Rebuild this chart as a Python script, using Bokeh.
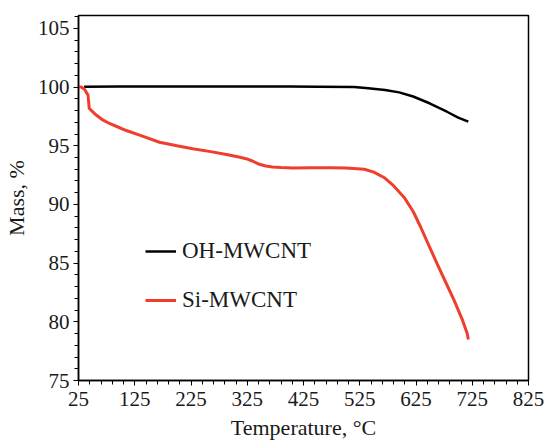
from bokeh.plotting import figure
from bokeh.models import Range1d, FixedTicker, Legend, LegendItem
from bokeh.embed import file_html
from bokeh.resources import INLINE

# OH-MWCNT
oh_temp = [35, 100, 200, 300, 400, 450, 515, 540, 570, 595, 620, 650, 680, 700, 718]
oh_mass = [100.02, 100.05, 100.05, 100.05, 100.04, 100.02, 100.0, 99.9, 99.75, 99.55, 99.2, 98.6, 97.9, 97.4, 97.05]

# Si-MWCNT
si_temp = [25, 30, 36, 42, 44, 50, 57, 68, 80, 95, 110, 140, 169, 200, 228, 260, 288, 310, 323, 335, 345, 358, 370,
           385, 406, 440, 474, 500, 520, 533, 550, 568, 585, 604, 620, 633, 648, 663, 678, 693, 708, 716, 718]
si_mass = [100.0, 100.0, 99.8, 99.3, 98.2, 97.9, 97.6, 97.2, 96.9, 96.6, 96.3, 95.8, 95.3, 95.0, 94.75, 94.5,
           94.26, 94.05, 93.9, 93.68, 93.45, 93.28, 93.2, 93.15, 93.1, 93.12, 93.13, 93.1, 93.05, 93.0, 92.75,
           92.3, 91.6, 90.6, 89.4, 88.1, 86.5, 84.9, 83.35, 81.8, 80.1, 79.0, 78.5]

x_ticks = [25, 125, 225, 325, 425, 525, 625, 725, 825]
y_ticks = [75, 80, 85, 90, 95, 100, 105]

FONT = "Liberation Serif"

p = figure(width=546, height=443, output_backend="svg", toolbar_location=None,
           x_range=Range1d(25, 825), y_range=Range1d(75, 106.1),
           min_border_left=77, min_border_right=18, min_border_top=15, min_border_bottom=63)

p.xgrid.visible = False
p.ygrid.visible = False
p.outline_line_color = "black"
p.outline_line_width = 1.5
p.background_fill_color = "white"
p.border_fill_color = "white"

p.xaxis.ticker = FixedTicker(ticks=x_ticks, minor_ticks=list(range(25, 826, 20)))
p.yaxis.ticker = FixedTicker(ticks=y_ticks, minor_ticks=list(range(75, 107, 1)))

for ax in (p.xaxis[0], p.yaxis[0]):
    ax.axis_line_color = "black"
    ax.axis_line_width = 1.5
    ax.major_tick_line_color = "black"
    ax.minor_tick_line_color = "black"
    ax.major_tick_out = 5
    ax.major_tick_in = 0
    ax.minor_tick_out = 4
    ax.minor_tick_in = 0
    ax.major_label_text_font = FONT
    ax.major_label_text_font_size = "21px"
    ax.major_label_text_color = "#1a1a1a"
    ax.axis_label_text_font = FONT
    ax.axis_label_text_font_size = "22px"
    ax.axis_label_text_font_style = "normal"
    ax.axis_label_text_color = "#1a1a1a"

p.xaxis.axis_label = "Temperature, °C"
p.yaxis.axis_label = "Mass, %"
p.xaxis.major_label_standoff = 6
p.yaxis.major_label_standoff = 4
p.xaxis.axis_label_standoff = 6
p.yaxis.axis_label_standoff = 6

r1 = p.line(oh_temp, oh_mass, line_color="black", line_width=2.5)
r2 = p.line(si_temp, si_mass, line_color="#EF3E2E", line_width=3)

legend = Legend(items=[LegendItem(label="OH-MWCNT", renderers=[r1]),
                       LegendItem(label="Si-MWCNT", renderers=[r2])],
                location=(67, 67))
legend.label_text_font = FONT
legend.label_text_font_size = "23px"
legend.label_text_color = "#1a1a1a"
legend.glyph_width = 31
legend.glyph_height = 24
legend.label_height = 24
legend.spacing = 23
legend.label_standoff = 6
legend.padding = 0
legend.margin = 0
legend.border_line_color = None
legend.background_fill_alpha = 0
p.add_layout(legend)

open("out.html", "w").write(file_html(p, INLINE))
